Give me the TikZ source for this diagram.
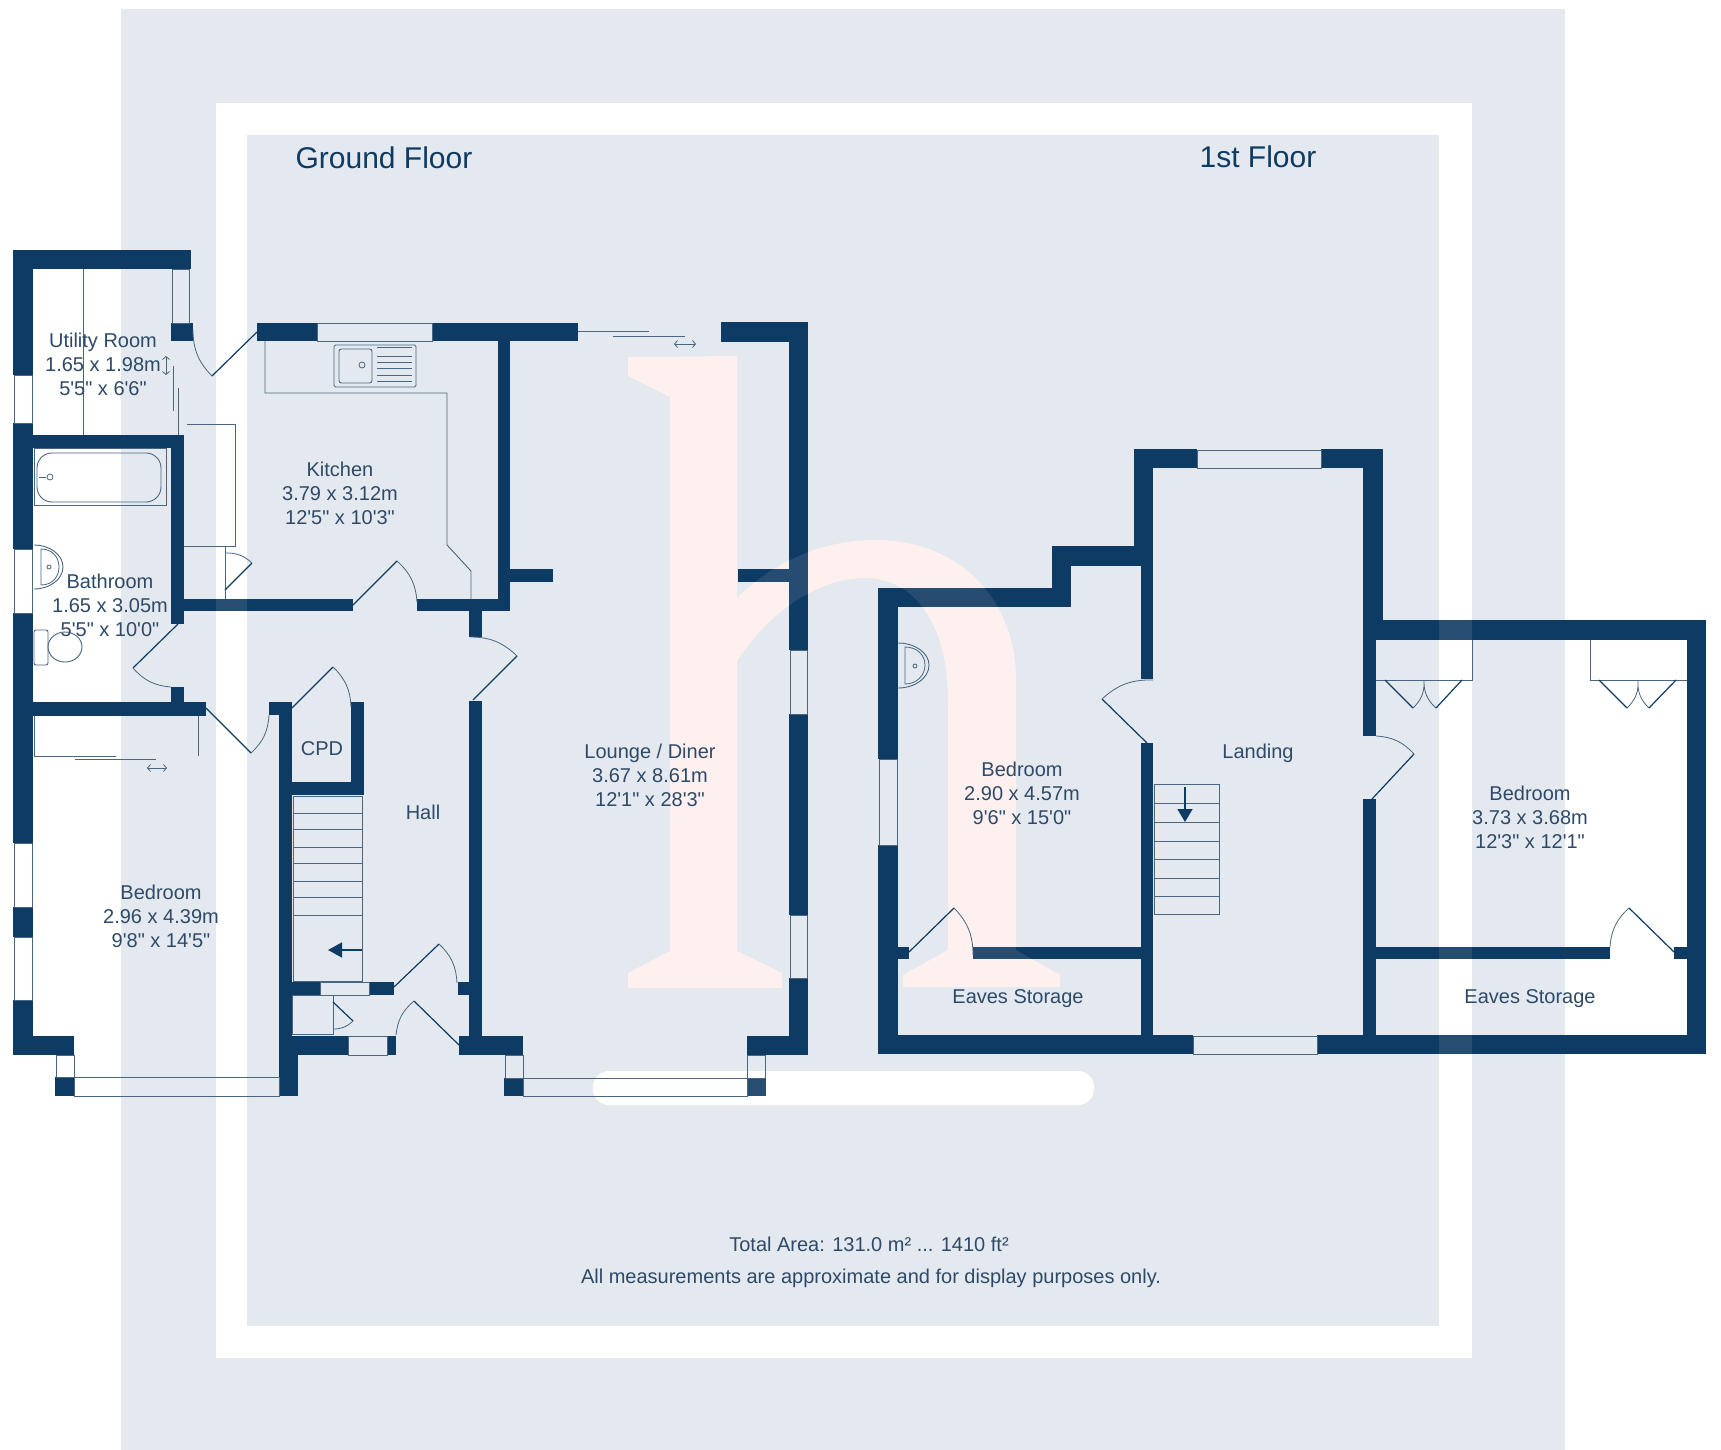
\documentclass[tikz,border=0pt]{standalone}
\usepackage{fontspec}
\usetikzlibrary{arrows.meta}
\newfontfamily\plabfont{Liberation Sans}
\definecolor{bgblue}{HTML}{E4E9EF}
\definecolor{wallc}{HTML}{0E3B63}
\definecolor{linec}{HTML}{4A6580}
\definecolor{textc}{HTML}{2E4A68}
\definecolor{wmark}{HTML}{FEF0EE}
\tikzset{
  wall/.style={fill=wallc},
  thinl/.style={draw=linec,line width=.9pt,line join=miter},
  doorl/.style={draw=wallc,line width=1.2pt},
  swingl/.style={draw=linec,line width=.8pt},
  glass/.style={draw=linec,line width=.9pt},
  room/.style={font=\plabfont\fontsize{20}{24}\selectfont,text=textc,align=center,inner sep=0pt},
  title/.style={font=\plabfont\fontsize{30}{36}\selectfont,text=wallc,inner sep=0pt},
  foot/.style={font=\plabfont\fontsize{20}{24}\selectfont,text=textc,inner sep=0pt},
}
\newcommand{\hpath}{(628,357) -- (737,356) -- (737,598) .. controls (775,560) and (825,540) .. (875,540) .. controls (960,540) and (1016,600) .. (1016,680) -- (1016,950) -- (1060,975) -- (1060,987) -- (903,987) -- (903,975) -- (948,950) -- (948,700) .. controls (948,625) and (915,578) .. (865,578) .. controls (820,578) and (770,610) .. (737,661) -- (737,951) -- (782,973) -- (782,988) -- (628,988) -- (628,973) -- (670,951) -- (670,397) -- (628,376) -- cycle}
\newcommand{\wl}[4]{\fill[wall] (#1,#2) rectangle (#3,#4);}
\newcommand{\win}[4]{\draw[glass] (#1,#2) rectangle (#3,#4);}
% hinge, tip, jamb, bend direction
\newcommand{\dr}[4]{\draw[doorl] (#1) -- (#2); \draw[swingl] (#2) to[#4=22] (#3);}
\begin{document}
\begin{tikzpicture}[x=1pt,y=-1pt]
\useasboundingbox (0,0) rectangle (1721,1450);
\fill[white] (0,0) rectangle (1721,1450);
% background bands
\fill[bgblue] (121,9) rectangle (1565,1450);
\fill[white] (216,103) rectangle (1472,1358);
\fill[bgblue] (247,135) rectangle (1439,1326);
% watermark
\fill[wmark] \hpath;
\fill[white] (593,1071) [rounded corners=16pt] rectangle (1094,1105);
% === ground floor walls ===
\wl{13}{250}{191}{269}
\wl{13}{250}{33}{375} \wl{13}{423}{33}{549} \wl{13}{613}{33}{843} \wl{13}{907}{33}{937} \wl{13}{1000}{33}{1055}
\wl{13}{1036}{74}{1055}
\wl{55}{1077}{74}{1096}
\wl{171}{323}{193}{341}
\wl{257}{323}{317}{341} \wl{432}{323}{578}{341}
\wl{721}{322}{808}{342}
\wl{33}{435}{184}{448}
\wl{171}{435}{184}{624} \wl{171}{687}{184}{702}
\wl{33}{702}{206}{716}
\wl{184}{599}{353}{611} \wl{417}{599}{510}{611}
\wl{498}{341}{510}{611}
\wl{510}{569}{553}{582} \wl{738}{569}{789}{582}
\wl{469}{611}{482}{637} \wl{469}{701}{482}{1036}
\wl{269}{702}{292}{715} \wl{279}{702}{292}{1036}
\wl{351}{702}{364}{795} \wl{292}{782}{364}{795}
\wl{292}{982}{320}{995} \wl{369}{982}{394}{995} \wl{458}{982}{469}{995}
\wl{279}{1036}{348}{1055} \wl{387}{1036}{396}{1055}
\wl{279}{1055}{298}{1096}
\wl{459}{1036}{523}{1055}
\wl{504}{1078}{523}{1096}
\wl{747}{1036}{808}{1055}
\wl{747}{1078}{766}{1096}
\wl{789}{322}{808}{650} \wl{789}{714}{808}{915} \wl{789}{978}{808}{1055}
% === first floor walls ===
\wl{878}{588}{898}{759} \wl{878}{845}{898}{1054}
\wl{878}{588}{1071}{607}
\wl{1052}{546}{1071}{607}
\wl{1052}{546}{1153}{566}
\wl{1134}{449}{1153}{566}
\wl{1141}{566}{1153}{679} \wl{1141}{743}{1153}{1054}
\wl{1134}{449}{1197}{468} \wl{1321}{449}{1383}{468}
\wl{1363}{449}{1383}{620}
\wl{1363}{620}{1706}{640}
\wl{1687}{620}{1706}{1054}
\wl{1363}{620}{1376}{736} \wl{1363}{799}{1376}{1054}
\wl{878}{1035}{1193}{1054} \wl{1317}{1035}{1706}{1054}
\wl{898}{947}{909}{959} \wl{973}{947}{1141}{959}
\wl{1376}{947}{1610}{959} \wl{1674}{947}{1687}{959}
% overlays seen faintly on the walls
\fill[wmark,opacity=.1] \hpath;
\fill[white,opacity=.1,even odd rule] (216,103) rectangle (1472,1358) (247,135) rectangle (1439,1326);
\fill[white,opacity=.1] (593,1071) [rounded corners=16pt] rectangle (1094,1105);
% === windows ===
\win{14}{375}{32}{423} \win{14}{549}{32}{613} \win{14}{843}{32}{907} \win{14}{937}{32}{1000}
\win{56}{1055}{74}{1077} \win{74}{1077}{279}{1096}
\win{317}{323}{432}{341}
\win{348}{1036}{387}{1055} \win{320}{982}{369}{995}
\win{505}{1055}{523}{1078} \win{523}{1078}{747}{1096} \win{747}{1055}{765}{1078}
\win{790}{650}{807}{714} \win{790}{915}{807}{978}
\win{879}{759}{897}{845}
\win{1197}{450}{1321}{468} \win{1193}{1036}{1317}{1054}
% === utility fittings ===
\draw[thinl] (83,269) -- (83,435);
\draw[thinl] (172,269) rectangle (189,323);
\draw[thinl] (173,366) -- (173,411) (178,388) -- (178,435);
\draw[swingl,<->,>={Straight Barb[length=3pt,width=7pt]}] (166,356) -- (166,375);
% === kitchen fittings ===
\draw[thinl] (265,341) -- (265,393) -- (447,393) -- (447,545) -- (471,571) -- (471,599);
\draw[thinl,rounded corners=1.5pt] (334,345) rectangle (416,387);
\draw[thinl,rounded corners=2.5pt] (339,349) rectangle (372,383);
\draw[swingl] (362,365) circle (3pt);
\draw[swingl,line width=.6pt] (377,347) -- (412,347) (377,356) -- (412,356) (377,362) -- (412,362) (377,368) -- (412,368) (377,375) -- (412,375) (377,381) -- (412,381);
\draw[thinl] (187,424) -- (235,424) -- (235,546) -- (184,546);
\draw[thinl] (225,546) -- (225,599);
% === bathroom fittings ===
\draw[thinl] (34,448) rectangle (166,505);
\draw[thinl,rounded corners=15pt] (37,453) rectangle (161,502);
\draw[swingl] (50,477) circle (3pt);
\draw[swingl] (39,477) -- (46,477);
\draw[thinl] (34,545) .. controls (50,545) and (63,555) .. (63,567) .. controls (63,579) and (50,589) .. (34,589);
\draw[swingl] (41,549) .. controls (53,549) and (59,558) .. (59,567) .. controls (59,576) and (53,585) .. (41,585) -- cycle;
\draw[swingl] (49,567) circle (2pt);
\draw[thinl,rounded corners=2pt] (34,630) rectangle (48,665);
\draw[thinl] (65,647) ellipse [x radius=17pt,y radius=15pt];
% === bedroom wardrobe ===
\draw[thinl] (34,716) -- (34,756) -- (116,756);
\draw[thinl] (75,759.5) -- (156,759.5);
\draw[thinl] (198,716) -- (198,756);
\draw[swingl,<->,>={Straight Barb[length=3pt,width=7pt]}] (147,768) -- (167,768);
% === stairs ground ===
\draw[thinl] (293,796) rectangle (362,981);
\draw[thinl] (293,813) -- (362,813) (293,829) -- (362,829) (293,847) -- (362,847) (293,863) -- (362,863) (293,881) -- (362,881) (293,897) -- (362,897) (293,915) -- (362,915);
\draw[wallc,line width=1.5pt,-{Triangle[length=14pt,width=15pt]}] (362,950) -- (328,950);
% hall cupboard box
\draw[thinl] (292,995) rectangle (333,1034);
% lounge sliding door
\draw[thinl] (578,331) -- (649,331) (613,336) -- (685,336);
\draw[swingl,<->,>={Straight Barb[length=3pt,width=7pt]}] (674,344) -- (696,344);
% === first floor fittings ===
\draw[thinl] (898,643) .. controls (915,643) and (929,653) .. (929,665) .. controls (929,678) and (915,688) .. (898,688);
\draw[swingl] (905,647) .. controls (917,647) and (925,655) .. (925,665) .. controls (925,675) and (917,684) .. (905,684) -- cycle;
\draw[swingl] (915,666) circle (2pt);
\draw[thinl] (1154,784) rectangle (1219,914);
\draw[thinl] (1154,803.5) -- (1219,803.5) (1154,822) -- (1219,822) (1154,841) -- (1219,841) (1154,859) -- (1219,859) (1154,878) -- (1219,878) (1154,896) -- (1219,896);
\draw[wallc,line width=1.5pt,-{Triangle[length=13pt,width=15pt]}] (1185,787) -- (1185,822);
\draw[thinl] (1376,680) -- (1472,680) -- (1472,640);
\draw[thinl] (1590,640) -- (1590,680) -- (1687,680);
\draw[doorl] (1385,680) -- (1413,708);
\draw[swingl] (1413,708) to[bend right=25] (1424,680) to[bend right=25] (1436,708);
\draw[doorl] (1436,708) -- (1462,680);
\draw[doorl] (1599,680) -- (1627,708);
\draw[swingl] (1627,708) to[bend right=25] (1638,680) to[bend right=25] (1649,708);
\draw[doorl] (1649,708) -- (1676,680);
% === doors ===
\dr{257,332}{212,376}{193,330}{bend left}
\dr{353,605}{397,561}{417,602}{bend left}
\dr{473,700}{517,656}{470,637}{bend right}
\dr{178,624}{133,668}{171,687}{bend right}
\dr{292,708}{333,667}{351,707}{bend left}
\dr{206,708}{251,753}{269,715}{bend right}
\dr{459,1045}{414,1001}{396,1035}{bend right}
\dr{394,987}{439,944}{457,983}{bend left}
\dr{225,590}{252,563}{225,553}{bend right}
\dr{333,1002}{353,1021}{333,1029}{bend left}
\dr{1147,743}{1102,699}{1153,680}{bend left}
\dr{909,952}{954,908}{973,955}{bend left}
\dr{1372,799}{1414,754}{1376,736}{bend right}
\dr{1674,952}{1629,908}{1610,947}{bend right}
% === text ===
\node[title] (tground) at (384,158) {Ground Floor};
\node[title] (tfirst) at (1258,157) {1st Floor};
\node[room] (utility) at (103,364) {Utility Room\\1.65 x 1.98m\\5'5" x 6'6"};
\node[room] (kitchen) at (340,493) {Kitchen\\3.79 x 3.12m\\12'5" x 10'3"};
\node[room] (bathroom) at (110,605) {Bathroom\\1.65 x 3.05m\\5'5" x 10'0"};
\node[room] (bed1) at (161,916) {Bedroom\\2.96 x 4.39m\\9'8" x 14'5"};
\node[room] (cpd) at (322,748.5) {CPD};
\node[room] (hall) at (423,812) {Hall};
\node[room] (lounge) at (650,775) {Lounge / Diner\\3.67 x 8.61m\\12'1" x 28'3"};
\node[room] (bed2) at (1022,793) {Bedroom\\2.90 x 4.57m\\9'6" x 15'0"};
\node[room] (eaves1) at (1018,998.5) {Eaves Storage};
\node[room] (landing) at (1258,753) {Landing};
\node[room] (bed3) at (1530,817) {Bedroom\\3.73 x 3.68m\\12'3" x 12'1"};
\node[room] (eaves2) at (1530,999) {Eaves Storage};
\node[foot] (area) at (869,1244) {Total Area: 131.0 m² ... 1410 ft²};
\node[foot] (note) at (871,1278) {All measurements are approximate and for display purposes only.};
\end{tikzpicture}
\end{document}
